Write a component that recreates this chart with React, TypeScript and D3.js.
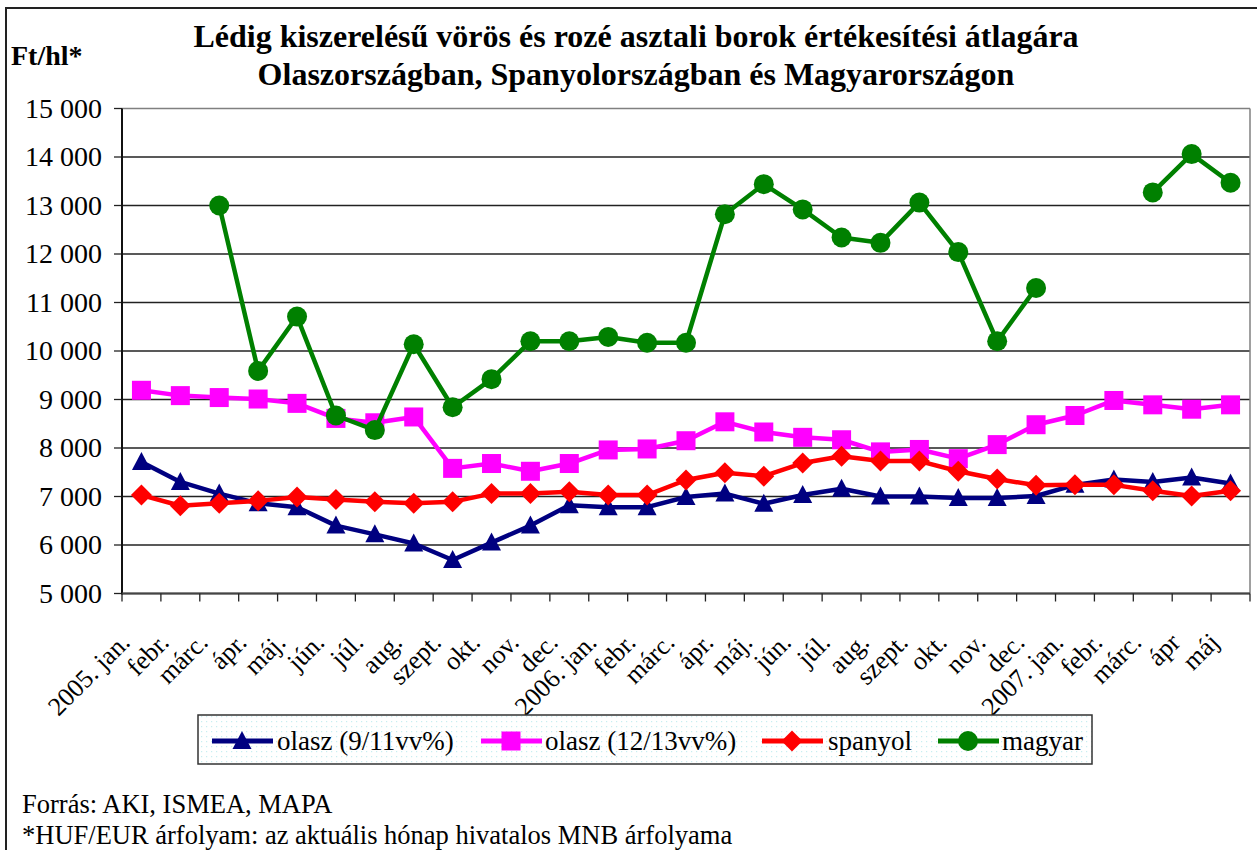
import React from 'react';
import * as d3 from 'd3';

const categories = ['2005. jan.', 'febr.', 'márc.', 'ápr.', 'máj.', 'jún.', 'júl.', 'aug.', 'szept.', 'okt.', 'nov.', 'dec.',
  '2006. jan.', 'febr.', 'márc.', 'ápr.', 'máj.', 'jún.', 'júl.', 'aug.', 'szept.', 'okt.', 'nov.', 'dec.',
  '2007. jan.', 'febr.', 'márc.', 'ápr', 'máj'];

const olasz911 = [7710, 7300, 7060, 6860, 6780, 6400, 6220, 6030, 5690, 6050, 6400, 6820, 6780, 6780, 6990,
  7060, 6850, 7030, 7160, 7000, 7000, 6970, 6970, 7010, 7240, 7350, 7300, 7390, 7270];
const olasz1213 = [9190, 9080, 9040, 9010, 8920, 8610, 8520, 8640, 7580, 7680, 7520, 7680, 7960, 7980, 8150,
  8540, 8330, 8220, 8170, 7920, 7970, 7780, 8070, 8480, 8670, 8980, 8890, 8800, 8890];
const spanyol = [7030, 6810, 6860, 6910, 6990, 6940, 6890, 6860, 6890, 7060, 7060, 7100, 7030, 7030, 7340,
  7490, 7420, 7690, 7830, 7730, 7730, 7520, 7360, 7230, 7240, 7240, 7120, 7010, 7120];
const magyar: (number | null)[] = [null, null, 13000, 9590, 10710, 8670, 8370, 10140, 8840, 9420, 10200, 10200, 10290, 10170, 10170,
  12820, 13440, 12920, 12340, 12230, 13060, 12040, 10200, 11300, null, null, 13270, 14060, 13470];

const yTicks = [5000, 6000, 7000, 8000, 9000, 10000, 11000, 12000, 13000, 14000, 15000];

const series = [
  { name: 'olasz (9/11vv%)', values: olasz911, color: '#000080', marker: 'triangle' },
  { name: 'olasz (12/13vv%)', values: olasz1213, color: '#FF00FF', marker: 'square' },
  { name: 'spanyol', values: spanyol, color: '#FF0000', marker: 'diamond' },
  { name: 'magyar', values: magyar, color: '#008000', marker: 'circle' },
];

const font = "'Liberation Serif', 'DejaVu Serif', serif";

const Marker = ({ type, x, y, color }: { type: string; x: number; y: number; color: string }) => {
  if (type === 'triangle') return <path d={`M${x},${y - 10}L${x + 9.5},${y + 8}L${x - 9.5},${y + 8}Z`} fill={color} />;
  if (type === 'square') return <rect x={x - 9.5} y={y - 9.5} width={19} height={19} fill={color} />;
  if (type === 'diamond') return <path d={`M${x},${y - 10.5}L${x + 10.5},${y}L${x},${y + 10.5}L${x - 10.5},${y}Z`} fill={color} />;
  return <circle cx={x} cy={y} r={10} fill={color} />;
};

export default function App() {
  const left = 122, right = 1250, top = 108.5, bottom = 593.5;
  const x = d3.scaleBand<number>().domain(d3.range(categories.length)).range([left, right]);
  const y = d3.scaleLinear().domain([5000, 15000]).range([bottom, top]);
  const cx = (i: number) => (x(i) as number) + x.bandwidth() / 2;

  const line = d3.line<number | null>()
    .defined(d => d != null)
    .x((_, i) => cx(i))
    .y(d => y(d as number));

  const legendItems = [
    { lx: 212, tx: 277 },
    { lx: 481, tx: 545 },
    { lx: 762, tx: 828 },
    { lx: 938, tx: 1002 },
  ];

  return (
    <svg width={1257} height={850} style={{ position: 'absolute', left: 0, top: 0, background: '#fff', fontFamily: font }}>
      <defs>
        <pattern id="dots" width={5} height={5} patternUnits="userSpaceOnUse">
          <rect width={5} height={5} fill="#fff" />
          <rect x={1} y={1} width={1.2} height={1.2} fill="#c8eef0" />
        </pattern>
      </defs>
      {/* outer frame */}
      <rect x={6} y={8} width={1260} height={860} fill="none" stroke="#222" strokeWidth={2} />

      {/* title */}
      <text x={636} y={47} textAnchor="middle" fontWeight="bold" fontSize={32}>Lédig kiszerelésű vörös és rozé asztali borok értékesítési átlagára</text>
      <text x={636} y={85} textAnchor="middle" fontWeight="bold" fontSize={32}>Olaszországban, Spanyolországban és Magyarországon</text>
      <text x={11} y={65} fontWeight="bold" fontSize={28}>Ft/hl*</text>

      {/* grid */}
      {yTicks.map(t => (
        <g key={t}>
          <line x1={left} x2={right} y1={y(t)} y2={y(t)} stroke={t === 15000 ? '#808080' : '#222'} strokeWidth={1.3} />
          <line x1={left - 8} x2={left} y1={y(t)} y2={y(t)} stroke="#222" strokeWidth={1.3} />
          <text x={102} y={y(t) + 9} textAnchor="end" fontSize={28}>{d3.format(',')(t).replace(',', ' ')}</text>
        </g>
      ))}
      <line x1={right} x2={right} y1={top} y2={bottom} stroke="#808080" strokeWidth={1.5} />
      <line x1={left} x2={left} y1={top} y2={bottom + 1} stroke="#111" strokeWidth={2} />
      <line x1={left} x2={right} y1={bottom} y2={bottom} stroke="#444" strokeWidth={2} />
      {d3.range(categories.length + 1).map(k => {
        const tx = left + k * x.step();
        return <line key={k} x1={tx} x2={tx} y1={bottom} y2={bottom + 8} stroke="#222" strokeWidth={1.3} />;
      })}

      {/* x labels */}
      {categories.map((c, i) => (
        <text key={i} transform={`translate(${cx(i) - 10},${644}) rotate(-45)`} textAnchor="end" fontSize={26}>{c}</text>
      ))}

      {/* series */}
      {series.map(s => (
        <g key={s.name}>
          <path d={line(s.values) ?? ''} fill="none" stroke={s.color} strokeWidth={4.5} strokeLinejoin="round" />
          {s.values.map((v, i) => v == null ? null : (
            <Marker key={i} type={s.marker} x={cx(i)} y={y(v)} color={s.color} />
          ))}
        </g>
      ))}

      {/* legend */}
      <rect x={198} y={715} width={894} height={49} fill="url(#dots)" stroke="#333" strokeWidth={1.5} />
      {series.map((s, i) => (
        <g key={s.name}>
          <line x1={legendItems[i].lx} x2={legendItems[i].lx + 61} y1={741} y2={741} stroke={s.color} strokeWidth={5} />
          <Marker type={s.marker} x={legendItems[i].lx + 30} y={741} color={s.color} />
          <text x={legendItems[i].tx} y={750} fontSize={27}>{s.name}</text>
        </g>
      ))}

      {/* footnote */}
      <text x={22} y={813} fontSize={26.5}>Forrás: AKI, ISMEA, MAPA</text>
      <text x={22} y={844} fontSize={26.5}>*HUF/EUR árfolyam: az aktuális hónap hivatalos MNB árfolyama</text>
    </svg>
  );
}
